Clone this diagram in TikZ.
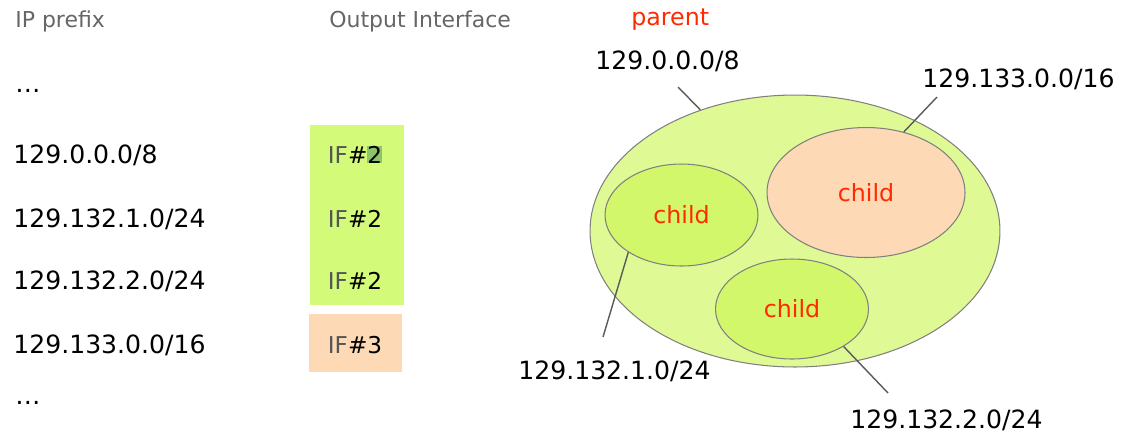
\documentclass[tikz,border=0pt]{standalone}
\usepackage{fontspec}
\setmainfont{DejaVu Sans}
\usepackage{tikz}
\usepackage{xcolor}
\usetikzlibrary{shapes.geometric}
\definecolor{boxgreen}{HTML}{D4FA7A}
\definecolor{hilite}{HTML}{8CC46C}
\definecolor{peach}{HTML}{FDDAB5}
\definecolor{outerfill}{HTML}{DFFA95}
\definecolor{innerfill}{HTML}{D3F76A}
\definecolor{redtxt}{HTML}{FF2A00}
\definecolor{headgray}{HTML}{666666}
\definecolor{ifgray}{HTML}{555555}
\definecolor{rimgray}{HTML}{808080}
\definecolor{leadgray}{HTML}{5A5A5A}
\setlength{\fboxsep}{0pt}

\begin{document}
\begin{tikzpicture}[x=0.02cm, y=-0.02cm,
  head/.style={anchor=base west, inner sep=0pt, text=headgray, font=\fontsize{12.5}{15}\selectfont},
  pfx/.style={anchor=base west, inner sep=0pt, font=\fontsize{14.3}{17}\selectfont},
  tag/.style={anchor=base, inner sep=0pt, font=\fontsize{13.2}{16}\selectfont},
  blob/.style={ellipse, draw=rimgray, line width=0.6pt, inner sep=0pt, text=redtxt, font=\fontsize{13.5}{16}\selectfont},
  lead/.style={draw=leadgray, line width=0.8pt}]
\useasboundingbox (0,0) rectangle (1129,441);

% table
\node[head] (hpfx) at (15,27) {IP prefix};
\node[head] (hif) at (329,27) {Output Interface};

\fill[boxgreen] (310,125) rectangle (404,305);
\fill[peach] (309,314) rectangle (402,372);

\node[pfx] (d1) at (15,92) {…};
\node[pfx] (r1) at (13,163) {129.0.0.0/8};
\node[pfx] (r2) at (13,227) {129.132.1.0/24};
\node[pfx] (r3) at (13,289) {129.132.2.0/24};
\node[pfx] (r4) at (13,353) {129.133.0.0/16};
\node[pfx] (d2) at (15,404) {…};

\node[tag] (t1) at (355,163) {\textcolor{ifgray}{IF}\#\colorbox{hilite}{2}};
\node[tag] (t2) at (355,227) {\textcolor{ifgray}{IF}\#2};
\node[tag] (t3) at (355,289) {\textcolor{ifgray}{IF}\#2};
\node[tag] (t4) at (355,353) {\textcolor{ifgray}{IF}\#3};

% nested prefixes
\node[blob, fill=outerfill, minimum width=8.2cm, minimum height=5.44cm] (parent) at (795,231) {};
\node[blob, fill=innerfill, minimum width=3.06cm, minimum height=2.04cm] (c241) at (681.5,215) {child};
\node[blob, fill=peach, minimum width=3.96cm, minimum height=2.6cm] (c16) at (866,192.5) {child};
\node[blob, fill=innerfill, minimum width=3.06cm, minimum height=2cm] (c242) at (792,309) {child};

\node[anchor=base west, inner sep=0pt, text=redtxt, font=\fontsize{13.5}{16}\selectfont] (plbl) at (631,25) {parent};
\node[pfx] (l8) at (595,69) {129.0.0.0/8};
\node[pfx] (l16) at (922,87) {129.133.0.0/16};
\node[pfx] (l241) at (518,379) {129.132.1.0/24};
\node[pfx] (l242) at (850,428) {129.132.2.0/24};

\coordinate (e8) at (678,87);
\coordinate (e16) at (937,97);
\coordinate (e241) at (603,337);
\coordinate (e242) at (888,393);

\draw[lead] (e8) -- (parent.128);
\draw[lead] (e16) -- (c16.58);
\draw[lead] (e241) -- (c241.215);
\draw[lead] (e242) -- (c242.324);
\end{tikzpicture}
\end{document}
